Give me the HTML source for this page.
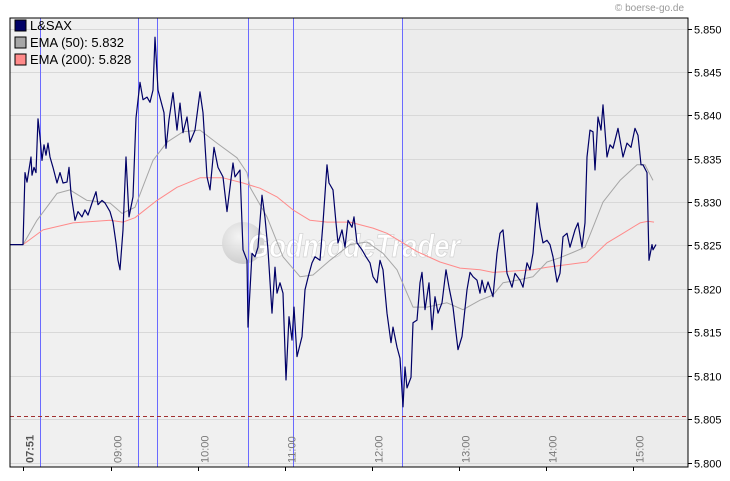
<!DOCTYPE html>
<html><head><meta charset="utf-8"><style>
html,body{margin:0;padding:0;background:#fff;}
svg{display:block;font-family:"Liberation Sans",sans-serif;}
</style></head><body>
<svg id="chart" width="730" height="481" viewBox="0 0 730 481" xmlns="http://www.w3.org/2000/svg">
<defs><radialGradient id="wg" cx="0.4" cy="0.35" r="0.7"><stop offset="0" stop-color="#f4f4f4"/><stop offset="1" stop-color="#c8c8c8"/></radialGradient></defs>
<text x="684" y="11" text-anchor="end" font-size="10" fill="#999">© boerse-go.de</text>
<rect x="10" y="18" width="678" height="449" fill="#f0f0f0"/>
<rect x="403" y="18" width="285" height="449" fill="#ececec"/>
<g id="grid"></g>
<g>
<circle cx="243" cy="243" r="21" fill="url(#wg)" opacity="0.9"/>
<text x="248" y="257" font-size="32" font-weight="bold" font-style="italic" fill="#fff" stroke="#d4d4d4" stroke-width="0.8" textLength="212" lengthAdjust="spacingAndGlyphs">GodmodeTrader</text>
</g>
<g id="vlines"></g>
<g id="series"></g>
<g id="axes"></g>
<g>
<rect x="15" y="20" width="11" height="11" fill="#000066" stroke="#000"/>
<text x="30" y="30" font-size="13" fill="#000">L&amp;SAX</text>
<rect x="15" y="37" width="11" height="11" fill="#a6a6a6" stroke="#000"/>
<text x="30" y="47" font-size="13" fill="#000">EMA (50): 5.832</text>
<rect x="15" y="54" width="11" height="11" fill="#ff8a8a" stroke="#000"/>
<text x="30" y="64" font-size="13" fill="#000">EMA (200): 5.828</text>
</g>
<rect x="10" y="18" width="678" height="449" fill="none" stroke="#000"/>
</svg>
<script>
const priceTimes=[7.839,7.989,8.011,8.034,8.080,8.092,8.115,8.138,8.161,8.184,8.207,8.230,8.253,8.276,8.299,8.333,8.379,8.414,8.448,8.494,8.517,8.540,8.586,8.621,8.667,8.701,8.736,8.782,8.828,8.851,8.897,8.931,8.989,9.023,9.057,9.080,9.103,9.138,9.172,9.207,9.253,9.287,9.333,9.368,9.414,9.448,9.483,9.506,9.540,9.609,9.632,9.667,9.713,9.759,9.793,9.828,9.874,9.908,9.966,10.023,10.057,10.103,10.138,10.184,10.230,10.287,10.333,10.368,10.402,10.425,10.483,10.517,10.563,10.575,10.621,10.655,10.690,10.736,10.770,10.805,10.851,10.885,10.908,10.943,10.977,11.011,11.046,11.080,11.103,11.138,11.195,11.230,11.264,11.310,11.345,11.402,11.437,11.483,11.506,11.552,11.586,11.609,11.655,11.690,11.724,11.770,11.793,11.828,11.885,11.931,11.977,12.011,12.057,12.092,12.126,12.172,12.218,12.241,12.287,12.322,12.356,12.379,12.402,12.448,12.471,12.517,12.552,12.575,12.609,12.655,12.690,12.724,12.759,12.805,12.851,12.885,12.931,12.989,13.034,13.092,13.126,13.161,13.207,13.241,13.264,13.299,13.333,13.391,13.437,13.471,13.506,13.552,13.609,13.644,13.701,13.736,13.782,13.816,13.851,13.897,13.931,13.966,14.011,14.046,14.080,14.126,14.161,14.195,14.241,14.276,14.333,14.368,14.414,14.448,14.471,14.506,14.540,14.563,14.598,14.632,14.655,14.701,14.736,14.770,14.828,14.885,14.931,14.977,15.023,15.057,15.092,15.115,15.161,15.184,15.218,15.230,15.264];
const priceValues=[5.8251,5.8251,5.8334,5.8323,5.8352,5.8331,5.8340,5.8334,5.8396,5.8375,5.8348,5.8366,5.8354,5.8368,5.8352,5.8340,5.8322,5.8334,5.8322,5.8323,5.8340,5.8310,5.8279,5.8289,5.8283,5.8291,5.8285,5.8299,5.8312,5.8297,5.8302,5.8299,5.8289,5.8277,5.8253,5.8233,5.8222,5.8268,5.8352,5.8283,5.8306,5.8397,5.8438,5.8418,5.8421,5.8415,5.8429,5.8490,5.8429,5.8403,5.8362,5.8395,5.8426,5.8383,5.8414,5.8380,5.8398,5.8369,5.8383,5.8427,5.8403,5.8329,5.8314,5.8363,5.8340,5.8329,5.8289,5.8317,5.8345,5.8329,5.8337,5.8245,5.8233,5.8156,5.8241,5.8237,5.8248,5.8308,5.8282,5.8245,5.8172,5.8225,5.8195,5.8207,5.8195,5.8095,5.8168,5.8141,5.8179,5.8122,5.8145,5.8199,5.8213,5.8230,5.8237,5.8233,5.8276,5.8343,5.8322,5.8314,5.8276,5.8253,5.8268,5.8248,5.8279,5.8271,5.8283,5.8253,5.8245,5.8237,5.8230,5.8214,5.8207,5.8233,5.8222,5.8172,5.8138,5.8156,5.8133,5.8120,5.8064,5.8110,5.8086,5.8098,5.8161,5.8164,5.8207,5.8219,5.8176,5.8207,5.8153,5.8191,5.8172,5.8184,5.8222,5.8202,5.8179,5.8130,5.8145,5.8199,5.8219,5.8214,5.8210,5.8195,5.8210,5.8196,5.8208,5.8191,5.8241,5.8264,5.8268,5.8218,5.8202,5.8218,5.8210,5.8202,5.8230,5.8222,5.8241,5.8299,5.8271,5.8253,5.8256,5.8251,5.8237,5.8208,5.8218,5.8260,5.8264,5.8248,5.8268,5.8276,5.8248,5.8276,5.8352,5.8383,5.8381,5.8337,5.8398,5.8383,5.8412,5.8352,5.8366,5.8362,5.8385,5.8352,5.8368,5.8363,5.8385,5.8377,5.8343,5.8343,5.8334,5.8233,5.8251,5.8245,5.8251];
const ema50Times=[7.989,8.149,8.379,8.529,8.724,8.989,9.126,9.276,9.483,9.644,9.828,10.023,10.218,10.448,10.563,10.598,10.793,10.977,11.172,11.322,11.517,11.747,11.943,12.126,12.287,12.402,12.471,12.632,12.862,13.046,13.241,13.391,13.506,13.667,13.851,14.011,14.161,14.310,14.448,14.540,14.655,14.851,15.046,15.138,15.230];
const ema50Values=[5.8251,5.8279,5.8310,5.8314,5.8302,5.8299,5.8287,5.8294,5.8348,5.8369,5.8381,5.8383,5.8368,5.8351,5.8334,5.8317,5.8283,5.8237,5.8214,5.8216,5.8233,5.8251,5.8254,5.8241,5.8222,5.8195,5.8179,5.8179,5.8184,5.8176,5.8187,5.8193,5.8207,5.8210,5.8214,5.8231,5.8236,5.8242,5.8248,5.8271,5.8300,5.8325,5.8343,5.8343,5.8325];
const ema200Times=[7.989,8.218,8.563,8.989,9.138,9.276,9.529,9.759,10.023,10.287,10.517,10.713,10.908,11.092,11.287,11.483,11.747,12.011,12.172,12.356,12.517,12.782,13.011,13.241,13.391,13.851,14.011,14.471,14.701,14.885,15.080,15.172,15.241];
const ema200Values=[5.8251,5.8268,5.8276,5.8279,5.8277,5.8282,5.8302,5.8317,5.8328,5.8328,5.8322,5.8316,5.8306,5.8291,5.8279,5.8277,5.8277,5.8270,5.8264,5.8253,5.8243,5.8231,5.8224,5.8222,5.8219,5.8222,5.8225,5.8231,5.8253,5.8264,5.8276,5.8278,5.8277];
const eventTimes=[8.184,9.310,9.529,10.575,11.092,12.345];
const yTickValues=[5.800,5.805,5.810,5.815,5.820,5.825,5.830,5.835,5.840,5.845,5.850];
const xTickTimes=[7.99,9,10,11,12,13,14,15];
const xTickLabels=["07:51","09:00","10:00","11:00","12:00","13:00","14:00","15:00"];
const supportLevel=5.8054;

const NS="http://www.w3.org/2000/svg";
const xS=h=>111+(h-9)*87;
const yS=v=>462.5-(v-5.8)*8680;
function mk(tag,attrs,parent){const e=document.createElementNS(NS,tag);for(const k in attrs)e.setAttribute(k,attrs[k]);parent.appendChild(e);return e;}
const grid=document.getElementById('grid'),vl=document.getElementById('vlines'),ser=document.getElementById('series'),ax=document.getElementById('axes');
yTickValues.forEach((v,i)=>{
  const y=Math.round(yS(v))+0.5;
  const g=mk('line',{x1:10,x2:688,y1:y,y2:y,stroke:'#d8d8d8','stroke-width':1},grid);
  
  
  const t=mk('line',{x1:688,x2:692,y1:y,y2:y,stroke:'#000'},ax);
  
  
  const l=mk('text',{x:694,y:y+4,'font-size':11,fill:'#000'},ax);
  l.textContent=v.toFixed(3);
  
  
});
xTickTimes.forEach((h,i)=>{
  const x=Math.round(xS(h))+0.5;
  const t=mk('line',{x1:x,x2:x,y1:467,y2:471,stroke:'#000'},ax);
  
  
  const l=mk('text',{x:0,y:0,'font-size':11,fill:i==0?'#555':'#777','font-weight':i==0?'bold':'normal',transform:`translate(${x+10},463) rotate(-90)`},ax);
  l.textContent=xTickLabels[i];
  
  
});
eventTimes.forEach(h=>{
  const x=Math.round(xS(h))+0.5;
  const e=mk('line',{x1:x,x2:x,y1:18,y2:467,stroke:'#6a6aff','stroke-width':1},vl);
  
  
});
const sy=Math.round(yS(supportLevel))+0.5;
const sl=mk('line',{x1:10,x2:688,y1:sy,y2:sy,stroke:'#a03030','stroke-dasharray':'4,3'},ser);


function path(ts,vs,color,w,name){
  const d=ts.map((t,i)=>(i?'L':'M')+xS(t).toFixed(1)+','+yS(vs[i]).toFixed(1)).join('');
  const p=mk('path',{d:d,fill:'none',stroke:color,'stroke-width':w,'stroke-linejoin':'round'},ser);
  
  
}
path(ema200Times,ema200Values,'#ff8a8a',1,'ema200-line');
path(ema50Times,ema50Values,'#a6a6a6',1,'ema50-line');
path(priceTimes,priceValues,'#000066',1.2,'price-line');
</script>
</body></html>
